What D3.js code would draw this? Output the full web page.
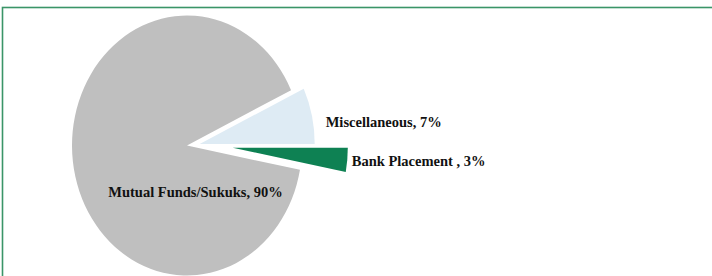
<!DOCTYPE html>
<html>
<head>
<meta charset="utf-8">
<script src="https://cdn.jsdelivr.net/npm/d3@7/dist/d3.min.js"></script>
<style>
  body { margin: 0; background: #fff; }
  svg { display: block; }
  .lbl { font-family: "Liberation Serif", "Times New Roman", serif; font-weight: bold; font-size: 14.5px; fill: #111; }
</style>
</head>
<body>
<div id="chart"></div>
<script>
// data
var categories = ["Bank Placement ", "Mutual Funds/Sukuks", "Miscellaneous"];
var shares = [3, 90, 7];
var colours = ["#0e8153", "#bfbfbf", "#deebf4"];

var w = 712, h = 276;
var cx = 187, cy = 145.5;
var r = 115, squash = 130 / 115;   // the pie is drawn a bit taller than wide

// how far each slice is pulled out of the pie
var pull = { "Bank Placement ": 46, "Mutual Funds/Sukuks": 0, "Miscellaneous": 13 };

var svg = d3.select("#chart").append("svg")
  .attr("width", w)
  .attr("height", h);

// green frame (only top and left edges show)
svg.append("rect")
  .attr("x", 2.5).attr("y", 7.5)
  .attr("width", w + 20).attr("height", h + 20)
  .attr("fill", "none")
  .attr("stroke", "#3a9568")
  .attr("stroke-width", 1.6);

var colour = d3.scaleOrdinal(categories, colours);

var data = categories.map(function(c, i) { return { name: c, value: shares[i] }; });

// start at 3 o'clock so Misc sits above and Bank below the horizontal
var pie = d3.pie()
  .sort(null)
  .value(function(d) { return d.value; })
  .startAngle(Math.PI / 2)
  .endAngle(Math.PI / 2 + 2 * Math.PI);

var arc = d3.arc().innerRadius(0).outerRadius(r);

var slices = pie(data);

var g = svg.append("g")
  .attr("transform", "translate(" + cx + "," + cy + ") scale(1," + squash + ")");

g.selectAll("path")
  .data(slices)
  .enter()
  .append("path")
  .attr("d", arc)
  .attr("fill", function(d) { return colour(d.data.name); })
  .attr("transform", function(d) {
    var a = (d.startAngle + d.endAngle) / 2;
    var p = pull[d.data.name];
    return "translate(" + (Math.sin(a) * p) + "," + (-Math.cos(a) * p * 0.45) + ")";
  });

// labels: the two small slices get theirs just outside the right tip,
// the big one sits inside the grey area
function rightTip(d) {
  var a = (d.startAngle + d.endAngle) / 2;
  var p = pull[d.data.name];
  return cx + Math.sin(a) * p + r;
}

var labelPos = {
  "Miscellaneous": function(d) { return [rightTip(d) + 11, 122]; },
  "Bank Placement ": function(d) { return [rightTip(d) + 4, 160.5]; },
  "Mutual Funds/Sukuks": function(d) { return [cx + 8.5, 192]; }
};
var labelAnchor = { "Miscellaneous": "start", "Bank Placement ": "start", "Mutual Funds/Sukuks": "middle" };

svg.selectAll("text.lbl")
  .data(slices)
  .enter()
  .append("text")
  .attr("class", "lbl")
  .attr("x", function(d) { return labelPos[d.data.name](d)[0]; })
  .attr("y", function(d) { return labelPos[d.data.name](d)[1]; })
  .attr("dy", "0.35em")
  .attr("text-anchor", function(d) { return labelAnchor[d.data.name]; })
  .text(function(d) { return d.data.name + ", " + d.data.value + "%"; });
</script>
</body>
</html>
